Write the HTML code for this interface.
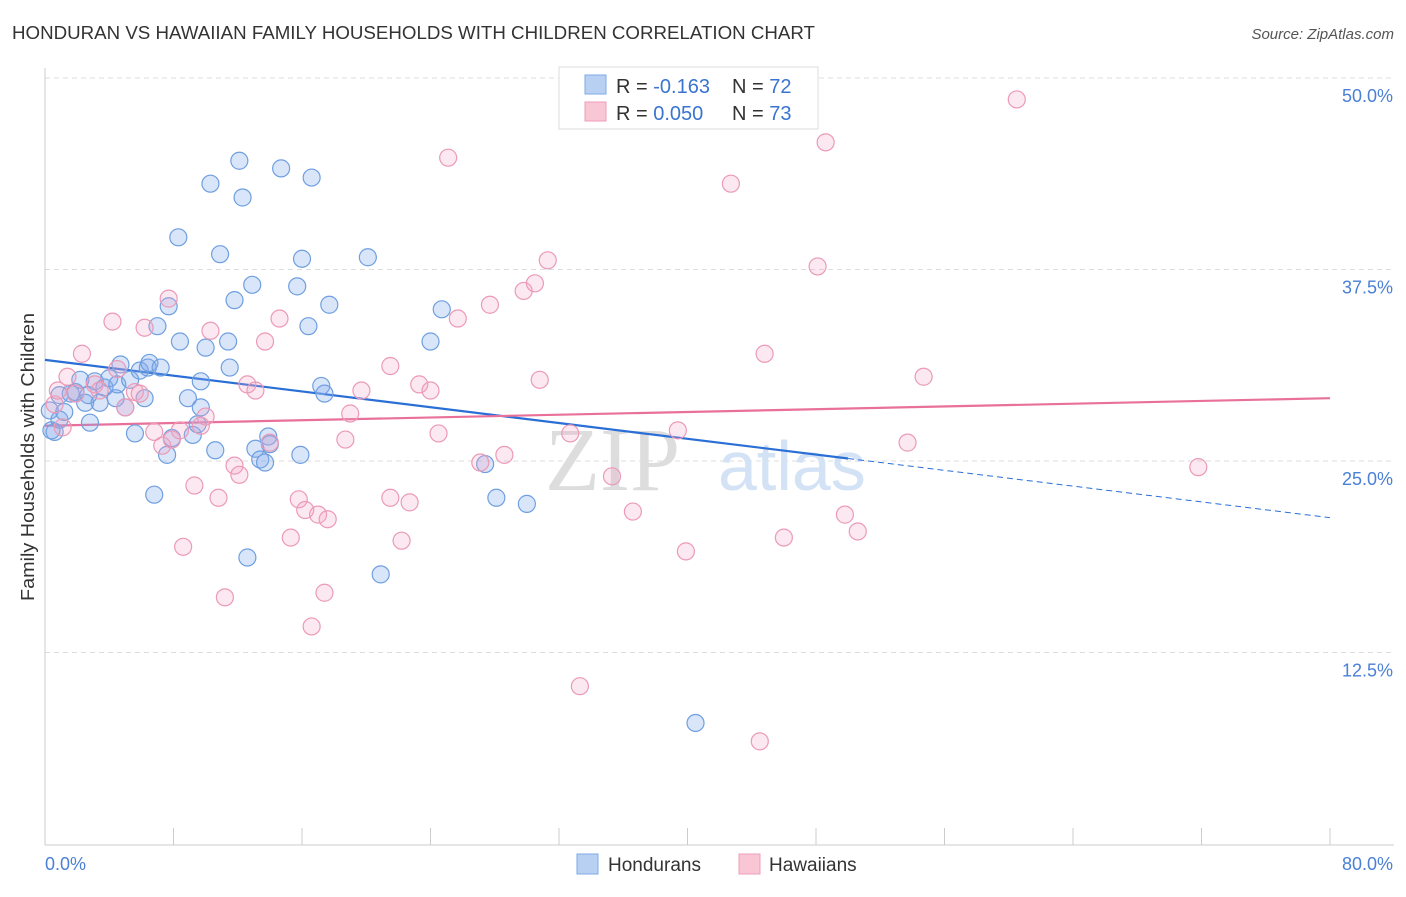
<!DOCTYPE html>
<html><head><meta charset="utf-8"><style>
body{margin:0;background:#fff;font-family:"Liberation Sans",sans-serif}
</style></head><body>
<svg id="chart" width="1406" height="892" xmlns="http://www.w3.org/2000/svg" font-family="Liberation Sans, sans-serif">
<text x="12" y="39" font-size="18" fill="#333" textLength="803" lengthAdjust="spacingAndGlyphs">HONDURAN VS HAWAIIAN FAMILY HOUSEHOLDS WITH CHILDREN CORRELATION CHART</text>
<text x="1394" y="39" font-size="15" fill="#555" font-style="italic" text-anchor="end">Source: ZipAtlas.com</text>
<text x="34" y="457" font-size="18" fill="#333" text-anchor="middle" textLength="288" lengthAdjust="spacingAndGlyphs" transform="rotate(-90 34 457)">Family Households with Children</text>
<g id="grid"></g><g id="axes"></g>
<text x="680" y="490" font-size="90" fill="#ddd" font-family="Liberation Serif, serif" text-anchor="end">ZIP</text>
<text x="718" y="490" font-size="70" fill="#d3e2f5">atlas</text>
<g id="trends"></g><g id="points"></g>
<g>
<rect x="559" y="67" width="259" height="62" fill="#fff" stroke="#ddd"/>
<rect x="585" y="75" width="21" height="19" fill="#b8d1f3" stroke="#7eaae6"/>
<rect x="585" y="102" width="21" height="19" fill="#f9c6d6" stroke="#ee9cb8"/>
<text x="616" y="93" font-size="20" fill="#333">R = <tspan fill="#3a74d0">-0.163</tspan><tspan x="732">N = </tspan><tspan fill="#3a74d0">72</tspan></text>
<text x="616" y="120" font-size="20" fill="#333">R = <tspan fill="#3a74d0">0.050</tspan><tspan x="732">N = </tspan><tspan fill="#3a74d0">73</tspan></text>
</g>
<g>
<rect x="577" y="854" width="21" height="20" fill="#b8d1f3" stroke="#7eaae6"/>
<text x="608" y="871" font-size="19" fill="#333">Hondurans</text>
<rect x="739" y="854" width="21" height="20" fill="#f9c6d6" stroke="#ee9cb8"/>
<text x="769" y="871" font-size="19" fill="#333">Hawaiians</text>
</g>
</svg>
<script>
const yTicks=[12.5,25.0,37.5,50.0];
const yTickLabels=["12.5%","25.0%","37.5%","50.0%"];
const xTickVals=[0,8,16,24,32,40,48,56,64,72,80];
const blueX=[0.3,0.6,0.9,1.2,1.6,1.9,2.2,2.5,2.8,3.1,3.4,3.7,4.0,4.4,4.5,4.7,5.0,5.3,5.6,5.9,6.2,6.4,6.5,6.8,7.0,7.2,7.6,7.7,7.9,8.3,8.4,8.9,9.2,9.5,9.7,10.0,10.3,10.6,10.9,11.4,11.5,11.8,12.1,12.3,12.6,12.9,13.1,13.4,13.7,13.9,14.0,14.7,15.7,15.9,16.0,16.4,16.6,17.2,17.4,17.7,20.1,20.9,24.0,24.7,27.4,28.1,30.0,40.5,0.4,0.9,2.7,9.7];
const blueY=[28.3,26.9,27.7,28.2,29.4,29.5,30.3,28.8,27.5,30.2,28.8,29.8,30.4,29.1,30.0,31.3,28.5,30.3,26.8,30.9,29.1,31.1,31.4,22.8,33.8,31.1,25.4,35.1,26.5,39.6,32.8,29.1,26.7,27.4,30.2,32.4,43.1,25.7,38.5,32.8,31.1,35.5,44.6,42.2,18.7,36.5,25.8,25.1,24.9,26.6,26.1,44.1,36.4,25.4,38.2,33.8,43.5,29.9,29.4,35.2,38.3,17.6,32.8,34.9,24.8,22.6,22.2,7.9,27.0,29.3,29.3,28.5];
const pinkX=[0.6,0.8,1.1,1.4,1.9,2.3,3.1,3.4,4.2,4.5,5.0,5.6,5.9,6.2,6.8,7.3,7.7,7.9,8.4,8.6,9.3,9.7,10.0,10.3,10.8,11.2,11.8,12.1,12.6,13.1,13.7,14.0,14.6,15.3,15.8,16.2,17.0,17.4,17.6,16.6,18.7,19.0,19.7,21.5,21.5,22.2,22.7,23.3,24.0,24.5,25.1,25.7,27.1,27.7,28.6,29.8,30.5,30.8,31.3,32.7,33.3,35.3,36.6,39.4,39.9,42.7,44.5,44.8,46.0,48.1,48.6,49.8,50.6,53.7,54.7,60.5,71.8];
const pinkY=[28.7,29.6,27.2,30.5,29.4,32.0,30.0,29.6,34.1,31.0,28.5,29.5,29.4,33.7,26.9,26.0,35.6,26.4,27.0,19.4,23.4,27.3,27.9,33.5,22.6,16.1,24.7,24.1,30.0,29.6,32.8,26.2,34.3,20.0,22.5,21.8,21.5,16.4,21.2,14.2,26.4,28.1,29.6,31.2,22.6,19.8,22.3,30.0,29.6,26.8,44.8,34.3,24.9,35.2,25.4,36.1,36.6,30.3,38.1,26.8,10.3,24.0,21.7,27.0,19.1,43.1,6.7,32.0,20.0,37.7,45.8,21.5,20.4,26.2,30.5,48.6,24.6];
const blueTrend=[31.6,21.3];
const pinkTrend=[27.3,29.1];
const NS="http://www.w3.org/2000/svg";
const X0=45,X1=1330,Y0=844,YS=191.5/12.5;
const sx=v=>X0+(v/80)*(X1-X0);
const sy=v=>Y0-v*YS;
function mk(tag,attrs,parent){const e=document.createElementNS(NS,tag);for(const k in attrs)e.setAttribute(k,attrs[k]);document.getElementById(parent).appendChild(e);return e;}
yTicks.forEach((t,i)=>{
 const l=mk('line',{x1:X0,x2:1394,y1:sy(t),y2:sy(t),stroke:'#ddd','stroke-dasharray':'5,4'},'grid');
 
 
 const tx=mk('text',{x:1393,y:sy(t)+24,'font-size':18,fill:'#4a80d6','text-anchor':'end'},'grid');
 tx.textContent=yTickLabels[i];
 
 
});
const ax=mk('line',{x1:X0,x2:1394,y1:Y0+1,y2:Y0+1,stroke:'#ccc'},'axes');


const ay=mk('line',{x1:X0,x2:X0,y1:68,y2:Y0+1,stroke:'#ccc'},'axes');


xTickVals.forEach(v=>{const t=mk('line',{x1:sx(v),x2:sx(v),y1:Y0+1,y2:Y0-16,stroke:'#ccc'},'axes');
 
 });
const xl0=mk('text',{x:45,y:870,'font-size':18,fill:'#4a80d6'},'axes');xl0.textContent='0.0%';


const xl1=mk('text',{x:1393,y:870,'font-size':18,fill:'#4a80d6','text-anchor':'end'},'axes');xl1.textContent='80.0%';


function addPts(xs,ys,fill,stroke,name){xs.forEach((x,i)=>{const c=mk('circle',{cx:sx(x),cy:sy(ys[i]),r:8.5,fill:fill,stroke:stroke,'stroke-width':1.2},'points');
 
 });}
addPts(blueX,blueY,'rgba(130,170,235,0.3)','#6f9fe0','honduran-point');
addPts(pinkX,pinkY,'rgba(245,165,195,0.25)','#eb9ab7','hawaiian-point');
const bAt=v=>blueTrend[0]+(blueTrend[1]-blueTrend[0])*v/80;
const b1=mk('line',{x1:sx(0),y1:sy(bAt(0)),x2:sx(50),y2:sy(bAt(50)),stroke:'#2a6fd6','stroke-width':2.2},'trends');


const b2=mk('line',{x1:sx(50),y1:sy(bAt(50)),x2:sx(80),y2:sy(bAt(80)),stroke:'#2a6fd6','stroke-width':1,'stroke-dasharray':'6,4'},'trends');


const p1=mk('line',{x1:sx(0),y1:sy(pinkTrend[0]),x2:sx(80),y2:sy(pinkTrend[1]),stroke:'#e8709a','stroke-width':2.2},'trends');


</script>
</body></html>
